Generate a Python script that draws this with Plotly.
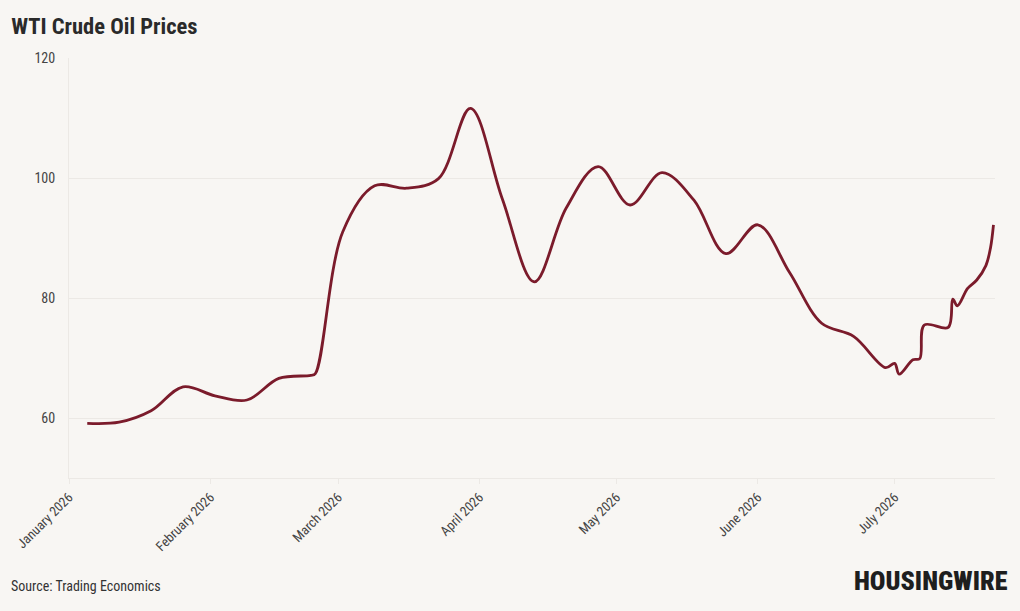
import plotly.graph_objects as go

dates = [
    "2026-01-05", "2026-01-12", "2026-01-19", "2026-01-26", "2026-02-02",
    "2026-02-09", "2026-02-16", "2026-02-23", "2026-02-24", "2026-03-02",
    "2026-03-09", "2026-03-16", "2026-03-23", "2026-03-30", "2026-04-06",
    "2026-04-13", "2026-04-20", "2026-04-27", "2026-05-04", "2026-05-11",
    "2026-05-18", "2026-05-25", "2026-06-01", "2026-06-08", "2026-06-15",
    "2026-06-22", "2026-06-29", "2026-07-01", "2026-07-02", "2026-07-05",
    "2026-07-06 12:00", "2026-07-07 12:00", "2026-07-12 18:00", "2026-07-13 18:00",
    "2026-07-14 18:00", "2026-07-17", "2026-07-19", "2026-07-21",
    "2026-07-22", "2026-07-22 16:00",
]
prices = [
    59.1, 59.3, 61.2, 65.2, 63.7,
    63.0, 66.6, 67.1, 67.4, 91.0,
    98.7, 98.3, 99.9, 111.6, 96.5,
    82.7, 95.0, 101.9, 95.5, 100.9,
    96.3, 87.4, 92.2, 84.2, 75.8,
    73.6, 68.4, 69.1, 67.3, 69.7,
    69.9, 75.5, 75.1, 79.8,
    78.7, 81.6, 83.0, 85.4,
    88.3, 92.2,
]

y_ticks = [60, 80, 100, 120]
x_ticks = ["2026-01-01", "2026-02-01", "2026-03-01", "2026-04-01",
           "2026-05-01", "2026-06-01", "2026-07-01"]
x_labels = ["January 2026", "February 2026", "March 2026", "April 2026",
            "May 2026", "June 2026", "July 2026"]

FONT = "Roboto Condensed, Liberation Sans Narrow, Roboto, sans-serif"
BG = "#f8f6f3"

fig = go.Figure()
fig.add_trace(go.Scatter(
    x=dates, y=prices, mode="lines",
    line=dict(color="#7b1b2b", width=2.8, shape="spline", smoothing=1.0),
    hoverinfo="x+y",
))

fig.update_layout(
    width=1020, height=611,
    paper_bgcolor=BG, plot_bgcolor=BG,
    margin=dict(l=69, r=25, t=58, b=133),
    font=dict(family=FONT, color="#444444", size=13),
    showlegend=False,
    title=dict(text="<b>WTI Crude Oil Prices</b>", x=0.011, xanchor="left",
               y=0.958, yanchor="middle",
               font=dict(family=FONT, size=22.5, color="#2a2a2a")),
    xaxis=dict(
        range=["2026-01-01", "2026-07-23"],
        tickvals=x_ticks, ticktext=x_labels, tickangle=-45,
        showgrid=False, showline=True, linecolor="#ece9e5", linewidth=1,
        ticks="outside", ticklen=5, tickcolor="#ece9e5",
        tickfont=dict(family=FONT, size=13.5, color="#444444"),
        zeroline=False,
    ),
    yaxis=dict(
        range=[50, 120], tickvals=y_ticks,
        showgrid=True, gridcolor="#ece9e5", gridwidth=1,
        showline=True, linecolor="#ece9e5", linewidth=1,
        ticks="", ticklabelstandoff=10,
        tickfont=dict(family=FONT, size=14, color="#444444"),
        zeroline=False,
    ),
    annotations=[
        dict(text="Source: Trading Economics", xref="paper", yref="paper",
             x=-0.065, y=-0.2575, xanchor="left", yanchor="middle",
             showarrow=False, font=dict(family=FONT, size=14, color="#333333")),
        dict(text="HOUSINGWIRE", xref="paper", yref="paper",
             x=1.0165, y=-0.245, xanchor="right", yanchor="middle",
             showarrow=False,
             font=dict(family=FONT, size=26, color="#1e1e1e", weight=900)),
    ],
)

fig.write_html("out.html", config={"displayModeBar": False},
               post_script="document.body.style.margin='0';")
